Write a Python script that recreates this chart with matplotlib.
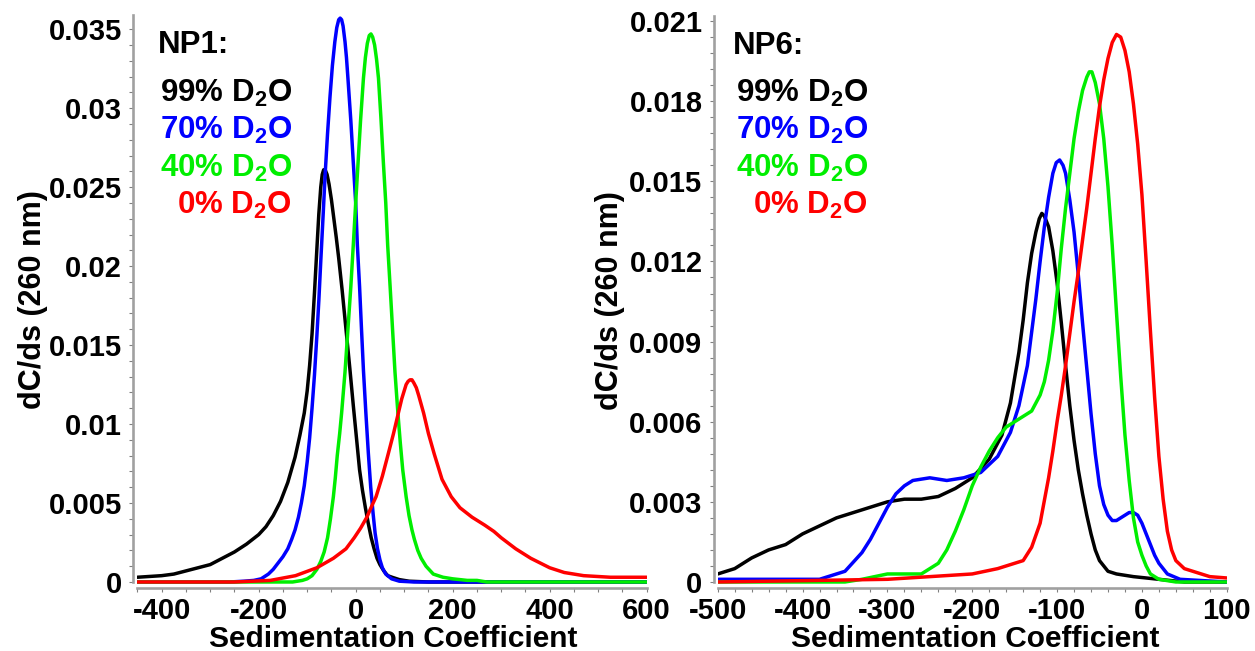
import matplotlib
matplotlib.use("Agg")
import matplotlib.pyplot as plt
from matplotlib.ticker import FixedLocator, AutoMinorLocator, FuncFormatter

plt.rcParams['font.family'] = ['Liberation Sans', 'DejaVu Sans']
plt.rcParams['font.weight'] = 'bold'
plt.rcParams['mathtext.fontset'] = 'custom'
plt.rcParams['mathtext.rm'] = 'Liberation Sans:bold'
plt.rcParams['mathtext.bf'] = 'Liberation Sans:bold'
plt.rcParams['mathtext.default'] = 'rm'

# ---- NP1 (left panel) ----
np1_s_99 = [-450, -425, -400, -375, -350, -325, -300, -275, -250, -225, -200, -185, -170, -155, -140, -125,
            -115, -106, -100, -95, -90, -85, -80, -76, -72, -69, -66, -63, -59, -55, -50, -45, -40, -35, -28,
            -20, -12, -5, 2, 8, 14, 20, 26, 32, 38, 44, 50, 58, 66, 75, 90, 110, 150, 600]
np1_v_99 = [0.0003, 0.00035, 0.0004, 0.0005, 0.0007, 0.0009, 0.0011, 0.0015, 0.0019, 0.0024, 0.0030, 0.0035,
            0.0042, 0.0051, 0.0063, 0.0079, 0.0093, 0.0107, 0.0121, 0.0137, 0.0157, 0.0183, 0.0211, 0.0233,
            0.0250, 0.0258, 0.0261, 0.0261, 0.0258, 0.0252, 0.0242, 0.0230, 0.0218, 0.0205, 0.0185, 0.0160,
            0.0135, 0.0112, 0.0090, 0.0071, 0.0058, 0.0047, 0.0037, 0.0028, 0.0021, 0.0015, 0.0011, 0.0007,
            0.0004, 0.0003, 0.00015, 0.00005, 0.0, 0.0]

np1_s_70 = [-450, -260, -230, -210, -195, -180, -170, -160, -150, -140, -132, -125, -118, -112, -106, -100,
            -95, -90, -85, -80, -76, -72, -67, -63, -58, -53, -48, -43, -39, -35, -32, -29, -26, -22, -19,
            -16, -10, -5, 0, 3.5, 8, 12, 16, 21, 26, 31, 36, 40, 45, 50, 55, 62, 74, 90, 120, 600]
np1_v_70 = [0.0, 0.0, 0.00005, 0.0001, 0.0002, 0.0005, 0.0008, 0.0012, 0.0016, 0.0021, 0.0027, 0.0033,
            0.0041, 0.0050, 0.0061, 0.0076, 0.0091, 0.0110, 0.0131, 0.0156, 0.0178, 0.0203, 0.0233, 0.0258,
            0.0284, 0.0307, 0.0327, 0.0342, 0.0351, 0.0356, 0.0357, 0.0356, 0.0352, 0.0342, 0.0332, 0.0319,
            0.0292, 0.0266, 0.0240, 0.0213, 0.0187, 0.0160, 0.0134, 0.0107, 0.0082, 0.0060, 0.0043, 0.0031,
            0.0021, 0.0014, 0.0009, 0.0005, 0.0002, 0.00005, 0.0, 0.0]

np1_s_40 = [-450, -130, -110, -100, -90, -80, -72, -65, -58, -52, -46, -42, -38, -33, -29, -22, -16, -10, -5,
            0, 5, 10, 16, 20, 24, 28, 31.5, 35, 39, 43, 47, 52, 57, 62, 66, 71, 76, 81, 87, 92, 97, 104, 110,
            116, 121, 128, 135, 145, 160, 180, 200, 230, 250, 270, 600]
np1_v_40 = [0.0, 0.0, 0.0001, 0.0002, 0.0004, 0.0008, 0.0013, 0.0019, 0.0028, 0.0040, 0.0054, 0.0066,
            0.0080, 0.0094, 0.0107, 0.0133, 0.0160, 0.0187, 0.0213, 0.0240, 0.0266, 0.0292, 0.0319, 0.0332,
            0.0341, 0.0346, 0.0347, 0.0345, 0.0340, 0.0331, 0.0319, 0.0294, 0.0266, 0.0240, 0.0213, 0.0187,
            0.0160, 0.0133, 0.0107, 0.0088, 0.0071, 0.0054, 0.0042, 0.0033, 0.0027, 0.0020, 0.0015, 0.0010,
            0.0005, 0.0003, 0.0002, 0.0001, 0.0001, 0.0, 0.0]

np1_s_0 = [-450, -250, -176, -124, -80, -46, -20, -3, 10, 23, 33, 42, 55, 67, 78, 88, 95, 100, 104, 108,
           112, 116, 120, 125, 130, 140, 150, 162, 178, 197, 215, 240, 266, 285, 300, 330, 361, 400, 430,
           470, 525, 600]
np1_v_0 = [0.0, 0.0, 0.0001, 0.0004, 0.0009, 0.0015, 0.0021, 0.0028, 0.0034, 0.0041, 0.0048, 0.0054,
           0.0067, 0.0081, 0.0094, 0.0107, 0.0116, 0.0121, 0.0125, 0.0127, 0.0128, 0.0128, 0.0126, 0.0123,
           0.0118, 0.0107, 0.0094, 0.0081, 0.0065, 0.0054, 0.0047, 0.0041, 0.0036, 0.0032, 0.0028, 0.0021,
           0.0015, 0.0009, 0.0006, 0.0004, 0.0003, 0.0003]

# ---- NP6 (right panel) ----
np6_s_99 = [-500, -480, -460, -440, -420, -400, -380, -360, -340, -320, -300, -280, -260, -240, -220, -200,
            -180, -165, -155, -145, -140, -135, -130, -125, -121, -118, -115, -110, -105, -100, -95, -90,
            -85, -80, -75, -70, -65, -60, -55, -50, -45, -40, -30, -10, 20, 50, 100]
np6_v_99 = [0.0003, 0.0005, 0.0009, 0.0012, 0.0014, 0.0018, 0.0021, 0.0024, 0.0026, 0.0028, 0.0030, 0.0031,
            0.0031, 0.0032, 0.0035, 0.0039, 0.0046, 0.0055, 0.0067, 0.0086, 0.0098, 0.0112, 0.0123, 0.0131,
            0.0136, 0.0138, 0.0137, 0.0133, 0.0124, 0.0112, 0.0097, 0.0081, 0.0066, 0.0053, 0.0042, 0.0033,
            0.0025, 0.0018, 0.0012, 0.0008, 0.0006, 0.0004, 0.0003, 0.0002, 0.0001, 0.0, 0.0]

np6_s_70 = [-500, -380, -370, -350, -330, -320, -310, -300, -290, -280, -270, -250, -230, -210, -190, -170,
            -155, -145, -135, -125, -120, -115, -110, -105, -101, -97, -93, -90, -85, -80, -75, -70, -65, -60,
            -55, -50, -45, -40, -35, -30, -25, -20, -15, -10, -5, 0, 5, 10, 15, 20, 25, 30, 45, 100]
np6_v_70 = [0.0001, 0.0001, 0.0002, 0.0004, 0.0011, 0.0016, 0.0022, 0.0028, 0.0033, 0.0036, 0.0038, 0.0039,
            0.0038, 0.0039, 0.0041, 0.0047, 0.0056, 0.0066, 0.0081, 0.0106, 0.0120, 0.0133, 0.0144, 0.0153,
            0.0157, 0.0158, 0.0156, 0.0153, 0.0143, 0.0131, 0.0115, 0.0097, 0.0080, 0.0063, 0.0048, 0.0036,
            0.0029, 0.0025, 0.0023, 0.0023, 0.0024, 0.0025, 0.0026, 0.0026, 0.0025, 0.0022, 0.0018, 0.0014,
            0.0010, 0.0007, 0.0005, 0.0003, 0.0001, 0.0]

np6_s_40 = [-500, -350, -330, -300, -280, -260, -240, -230, -220, -210, -200, -190, -180, -170, -160, -150,
            -140, -130, -125, -120, -115, -110, -105, -100, -95, -90, -85, -80, -75, -70, -65, -62, -59, -55,
            -50, -45, -40, -35, -30, -25, -20, -15, -10, -5, 0, 5, 10, 20, 40, 100]
np6_v_40 = [0.0, 0.0, 0.0001, 0.0003, 0.0003, 0.0003, 0.0007, 0.0012, 0.0019, 0.0027, 0.0036, 0.0043,
            0.0049, 0.0054, 0.0058, 0.0060, 0.0062, 0.0064, 0.0067, 0.0070, 0.0075, 0.0083, 0.0094, 0.0108,
            0.0125, 0.0140, 0.0153, 0.0166, 0.0176, 0.0184, 0.0189, 0.0191, 0.0191, 0.0187, 0.0179, 0.0166,
            0.0148, 0.0126, 0.0101, 0.0077, 0.0055, 0.0038, 0.0024, 0.0015, 0.0010, 0.0006, 0.0003, 0.0001,
            0.0, 0.0]

np6_s_0 = [-500, -300, -250, -200, -170, -150, -140, -130, -120, -110, -105, -100, -95, -90, -85, -80, -75,
           -70, -65, -60, -55, -50, -45, -40, -35, -30, -25, -20, -15, -10, -5, 0, 5, 10, 15, 20, 25, 30,
           35, 40, 50, 60, 80, 100]
np6_v_0 = [0.0, 0.0001, 0.0002, 0.0003, 0.0005, 0.0007, 0.0008, 0.0013, 0.0022, 0.0039, 0.0049, 0.0060,
           0.0070, 0.0081, 0.0093, 0.0105, 0.0116, 0.0128, 0.0140, 0.0153, 0.0166, 0.0178, 0.0188, 0.0196,
           0.0202, 0.0205, 0.0204, 0.0199, 0.0191, 0.0179, 0.0164, 0.0145, 0.0120, 0.0094, 0.0069, 0.0047,
           0.0031, 0.0019, 0.0012, 0.0008, 0.0005, 0.0004, 0.0002, 0.00015]

np1_yticks = [0, 0.005, 0.01, 0.015, 0.02, 0.025, 0.03, 0.035]
np6_yticks = [0, 0.003, 0.006, 0.009, 0.012, 0.015, 0.018, 0.021]
np1_xticks = [-400, -200, 0, 200, 400, 600]
np6_xticks = [-500, -400, -300, -200, -100, 0, 100]

series_labels = ['99% D$_2$O', '70% D$_2$O', '40% D$_2$O', '0% D$_2$O']
colors = ['#000000', '#0000ff', '#00ee00', '#ff0000']

fig = plt.figure(figsize=(12.55, 6.51), dpi=100)
ax1 = fig.add_axes([0.1095, 0.0968, 0.4058, 0.8802])
ax2 = fig.add_axes([0.5719, 0.0968, 0.4056, 0.8786])

panels = [
    (ax1, 'NP1:', [(np1_s_99, np1_v_99), (np1_s_70, np1_v_70), (np1_s_40, np1_v_40), (np1_s_0, np1_v_0)],
     (-450, 600), (-0.00038, 0.0359), np1_xticks, np1_yticks, 4, 0.040, 0.3036),
    (ax2, 'NP6:', [(np6_s_99, np6_v_99), (np6_s_70, np6_v_70), (np6_s_40, np6_v_40), (np6_s_0, np6_v_0)],
     (-500, 100), (-0.000225, 0.02119), np6_xticks, np6_yticks, 5, 0.030, 0.2953),
]

for ax, title, data, xlim, ylim, xticks, yticks, xminor, tx_left, tx_right in panels:
    for (s, v), c in zip(data, colors):
        ax.plot(s, v, color=c, lw=2.5, solid_joinstyle='round', solid_capstyle='round')

    ax.set_xlim(*xlim)
    ax.set_ylim(*ylim)
    ax.xaxis.set_major_locator(FixedLocator(xticks))
    ax.yaxis.set_major_locator(FixedLocator(yticks))
    ax.xaxis.set_minor_locator(AutoMinorLocator(xminor))
    ax.yaxis.set_minor_locator(AutoMinorLocator(5))
    ax.yaxis.set_major_formatter(FuncFormatter(lambda y, p: '%g' % round(y, 4)))
    ax.xaxis.set_major_formatter(FuncFormatter(lambda x, p: '%d' % x))

    for side in ['top', 'right']:
        ax.spines[side].set_visible(False)
    for side in ['left', 'bottom']:
        ax.spines[side].set_color('#a0a0a0')
        ax.spines[side].set_linewidth(1.9)
    ax.spines['left'].set_position(('outward', 3))
    ax.spines['left'].set_bounds(0, ylim[1])
    ax.tick_params(which='both', direction='out', color='#808080', length=3, width=0.8,
                   labelsize=21)
    ax.tick_params(axis='x', pad=3.5)
    ax.tick_params(axis='y', pad=5)

    ax.set_xlabel('Sedimentation Coefficient', fontsize=21.5, fontweight='bold')
    ax.set_ylabel('dC/ds (260 nm)', fontsize=22, fontweight='bold')

    ax.text(tx_left, 0.9476, title, transform=ax.transAxes, fontsize=22.5, ha='left', va='center')
    for lab, c, yy in zip(series_labels, colors, [0.8639, 0.7993, 0.733, 0.6684]):
        ax.text(tx_right, yy, lab, transform=ax.transAxes, fontsize=22.5, ha='right', va='center', color=c)

ax1.xaxis.set_label_coords(0.502, -0.064)
ax2.xaxis.set_label_coords(0.505, -0.064)
ax1.yaxis.set_label_coords(-0.1755, 0.503)
ax2.yaxis.set_label_coords(-0.182, 0.503)

fig.savefig('out.png', dpi=100)
